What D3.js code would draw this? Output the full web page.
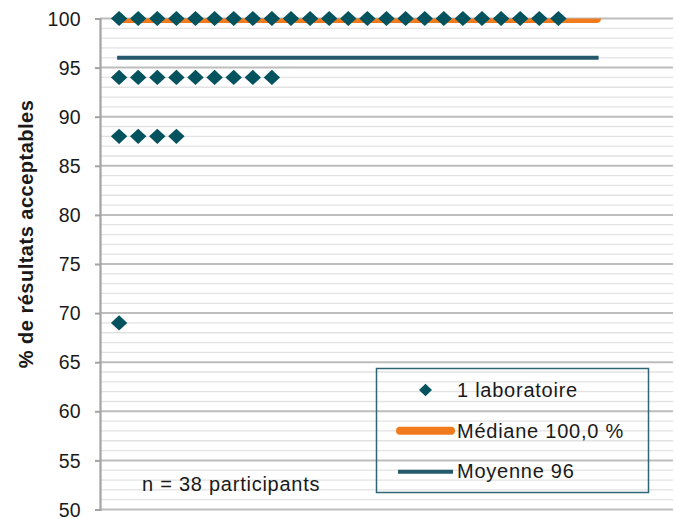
<!DOCTYPE html>
<html>
<head>
<meta charset="utf-8">
<script src="https://cdn.jsdelivr.net/npm/d3@7"></script>
<style>
  html, body { margin: 0; padding: 0; background: #fff; }
  svg text { font-family: "Liberation Sans", Arial, sans-serif; fill: #1a1a1a; }
</style>
</head>
<body>
<svg id="chart" width="676" height="519"></svg>
<script>
// ---- Data ----
// % of acceptable results per laboratory (38 participants), grouped in rows
const scores100 = [100,100,100,100,100,100,100,100,100,100,100,100,100,100,100,100,100,100,100,100,100,100,100,100];
const scores94 = [94,94,94,94,94,94,94,94,94];
const scores88 = [88,88,88,88];
const scores69 = [69];
const median = 100;
const mean = 96;
const statLineStart = 1;
const statLineEnd = 26;
const yTicks = [50,55,60,65,70,75,80,85,90,95,100];
const legendLabels = ["1 laboratoire", "Médiane 100,0 %", "Moyenne 96"];
const noteText = "n = 38 participants";
const yTitle = "% de résultats acceptables";

// ---- Styles ----
const C_DIAMOND = "#03535f";
const C_MEDIAN = "#f07a1c";
const C_MEAN = "#245a6c";
const C_MAJOR = "#bdbdbd";
const C_MINOR = "#e2e2e2";
const C_AXIS = "#a3a3a3";
const C_LEGEND = "#2e6676";

const svg = d3.select("#chart");
const x = d3.scaleLinear().domain([0, 30]).range([100, 673]);
const y = d3.scaleLinear().domain([50, 100]).range([509.5, 18.5]);

// Gridlines
const minor = d3.range(51, 100).filter(v => v % 5 !== 0);
svg.append("g").selectAll("line").data(minor).join("line")
  .attr("x1", x(0)).attr("x2", x(30))
  .attr("y1", d => y(d)).attr("y2", d => y(d))
  .attr("stroke", C_MINOR).attr("stroke-width", 1.3);
svg.append("g").selectAll("line").data(yTicks).join("line")
  .attr("x1", x(0)).attr("x2", x(30))
  .attr("y1", d => y(d)).attr("y2", d => y(d))
  .attr("stroke", C_MAJOR).attr("stroke-width", 2);

// Y axis
const yAxis = d3.axisLeft(y).tickValues(yTicks).tickSize(5).tickPadding(14).tickFormat(d3.format("d"));
const ga = svg.append("g").attr("transform", `translate(${x(0)},0)`).call(yAxis);
ga.select(".domain").attr("stroke", C_AXIS).attr("stroke-width", 2.2);
ga.selectAll(".tick line").attr("stroke", C_AXIS).attr("stroke-width", 2);
ga.selectAll(".tick text").style("font-size", "19.5px").attr("fill", "#1a1a1a")
  .style("font-family", "Liberation Sans, Arial, sans-serif").style("letter-spacing", "0.3px")
  .attr("dy", "0.34em");

// Y title
svg.append("text")
  .attr("transform", `translate(33, 234) rotate(-90)`)
  .attr("text-anchor", "middle")
  .style("font-size", "20px").style("font-weight", "bold").style("letter-spacing", "0.5px")
  .text(yTitle);

// Clip for plot area
svg.append("clipPath").attr("id", "plotclip").append("rect")
  .attr("x", x(0)).attr("y", y(100)).attr("width", x(30) - x(0) + 3).attr("height", y(50) - y(100));

// Median line
svg.append("line").attr("clip-path", "url(#plotclip)")
  .attr("x1", x(statLineStart)).attr("x2", x(statLineEnd))
  .attr("y1", y(median)).attr("y2", y(median))
  .attr("stroke", C_MEDIAN).attr("stroke-width", 9).attr("stroke-linecap", "round");

// Mean line
svg.append("line")
  .attr("x1", x(statLineStart)).attr("x2", x(statLineEnd))
  .attr("y1", y(mean)).attr("y2", y(mean))
  .attr("stroke", C_MEAN).attr("stroke-width", 4).attr("stroke-linecap", "square");

// Diamonds
const diamond = (cx, cy, w, h) => `M${cx},${cy - h}L${cx + w},${cy}L${cx},${cy + h}L${cx - w},${cy}Z`;
const rows = [scores100, scores94, scores88, scores69];
const points = [];
rows.forEach(r => r.forEach((v, i) => points.push({ idx: i + 1, v })));
svg.append("g").selectAll("path").data(points).join("path")
  .attr("d", d => diamond(x(d.idx), y(d.v), 8.2, 7.6))
  .attr("fill", C_DIAMOND);

// Note
svg.append("text").attr("x", 142).attr("y", 491)
  .style("font-size", "20px").style("letter-spacing", "0.75px").text(noteText);

// Legend
svg.append("rect").attr("x", 376.5).attr("y", 368.5).attr("width", 272).attr("height", 124)
  .attr("fill", "none").attr("stroke", C_LEGEND).attr("stroke-width", 1.5);
svg.append("path").attr("d", diamond(425.5, 390, 6.5, 6.2)).attr("fill", C_DIAMOND);
svg.append("line").attr("x1", 400).attr("x2", 451).attr("y1", 430.7).attr("y2", 430.7)
  .attr("stroke", C_MEDIAN).attr("stroke-width", 8).attr("stroke-linecap", "round");
svg.append("line").attr("x1", 398).attr("x2", 453).attr("y1", 471.7).attr("y2", 471.7)
  .attr("stroke", C_MEAN).attr("stroke-width", 4);
const legY = [397, 437.5, 478];
legendLabels.forEach((t, i) => {
  svg.append("text").attr("x", 457).attr("y", legY[i])
    .style("font-size", "20px").style("letter-spacing", "0.75px").text(t);
});
</script>
</body>
</html>
